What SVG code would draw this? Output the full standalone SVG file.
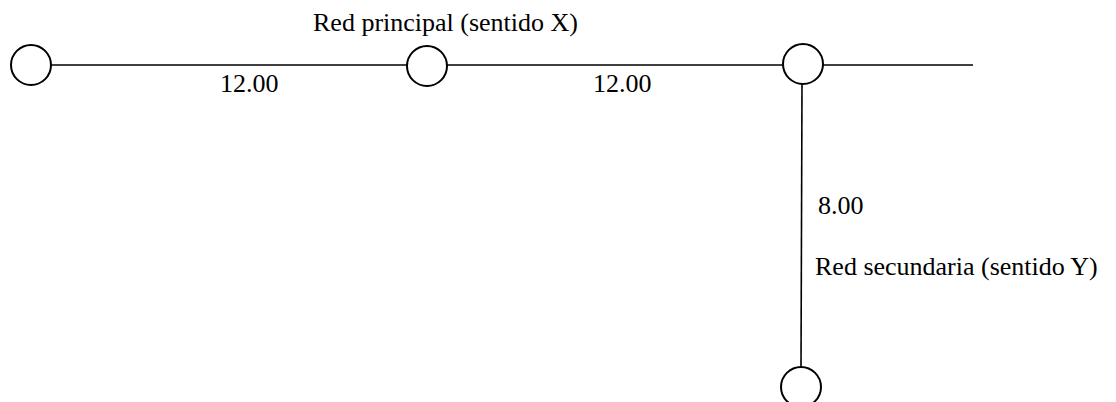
<svg xmlns="http://www.w3.org/2000/svg" width="1116" height="402" viewBox="0 0 1116 402">
<style>
.node{fill:#fff;stroke:#000;stroke-width:2}
.conn{stroke:#000;stroke-width:1.6;fill:none}
.t{font-family:"Liberation Serif","Times New Roman",serif;font-size:26px;fill:#000}
</style>
<rect width="1116" height="402" fill="#fff"/>
<g id="connectors">
<line class="conn" x1="51" y1="65" x2="407" y2="65"/>
<line class="conn" x1="447" y1="65" x2="783" y2="65"/>
<line class="conn" x1="823" y1="65" x2="973" y2="65"/>
<line class="conn" x1="802" y1="84" x2="801" y2="367"/>
</g>
<g id="n1"><circle class="node" cx="31" cy="65" r="20"/></g>
<g id="n2"><circle class="node" cx="427" cy="66" r="20"/></g>
<g id="n3"><circle class="node" cx="803" cy="64" r="20"/></g>
<g id="n4"><circle class="node" cx="801" cy="387" r="20"/></g>
<g id="labels">
<text class="t" x="313" y="31">Red principal (sentido X)</text>
<text class="t" x="220" y="92">12.00</text>
<text class="t" x="593" y="92">12.00</text>
<text class="t" x="818" y="214">8.00</text>
<text class="t" x="815" y="275">Red secundaria (sentido Y)</text>
</g>
</svg>
